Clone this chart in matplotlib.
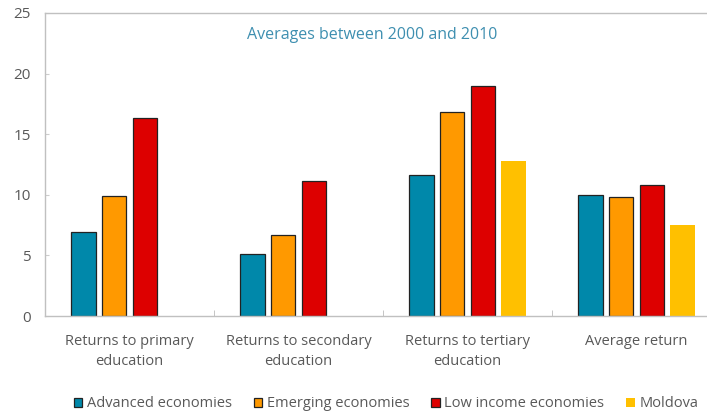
import matplotlib.pyplot as plt
import numpy as np

plt.rcParams['font.family'] = ['Open Sans', 'DejaVu Sans']

# returns to education, %
categories = ["Returns to primary\neducation", "Returns to secondary\neducation",
              "Returns to tertiary\neducation", "Average return"]
series = ["Advanced economies", "Emerging economies", "Low income economies", "Moldova"]
advanced = [6.9, 5.1, 11.6, 10.0]
emerging = [9.9, 6.7, 16.8, 9.8]
low_income = [16.3, 11.1, 19.0, 10.8]
moldova = [np.nan, np.nan, 12.8, 7.5]

colors = ["#0088AA", "#FF9900", "#DD0000", "#FFC000"]
edges = ["#222222", "#222222", "#222222", "none"]
grey = "#595959"

fig = plt.figure(figsize=(7.07, 4.13), dpi=100)
ax = fig.add_axes([45 / 707, 1 - 316 / 413, 676 / 707, 303 / 413])

x = np.arange(len(categories))
slot = 0.182
for i, (vals, name) in enumerate(zip([advanced, emerging, low_income, moldova], series)):
    ax.bar(x + (i - 1.5) * slot, vals, width=slot * 0.8, color=colors[i],
           edgecolor=edges[i], linewidth=0.9, label=name)

ax.set_xlim(-0.5, 3.5)
ax.set_ylim(0, 25)
ax.set_yticks(np.arange(0, 26, 5))
ax.set_xticks(x)
ax.set_xticklabels(categories, fontsize=10.5, color=grey, linespacing=1.45)
ax.set_xticks([0.5, 1.5, 2.5], minor=True)
ax.tick_params(axis='x', which='major', length=0, pad=13)
ax.tick_params(axis='x', which='minor', length=4, direction='in', color="#bbbbbb")
ax.tick_params(axis='y', length=3, direction='in', color="#cccccc", labelsize=11,
               labelcolor=grey, pad=10)

for side in ["left", "top", "bottom"]:
    ax.spines[side].set_color("#c0c0c0")
    ax.spines[side].set_linewidth(1.0)
ax.spines["right"].set_visible(False)

ax.text(0.484, 0.928, "Averages between 2000 and 2010", transform=ax.transAxes,
        ha='center', va='center', fontsize=11.5, color="#3E8FB0")

leg = fig.legend(loc='center', bbox_to_anchor=(0.546, 0.022), ncol=4, frameon=False,
                 fontsize=10.5, handlelength=0.6, handleheight=0.6, handletextpad=0.3,
                 columnspacing=1.5)
for t in leg.get_texts():
    t.set_color(grey)

fig.savefig("out.png", dpi=100)
